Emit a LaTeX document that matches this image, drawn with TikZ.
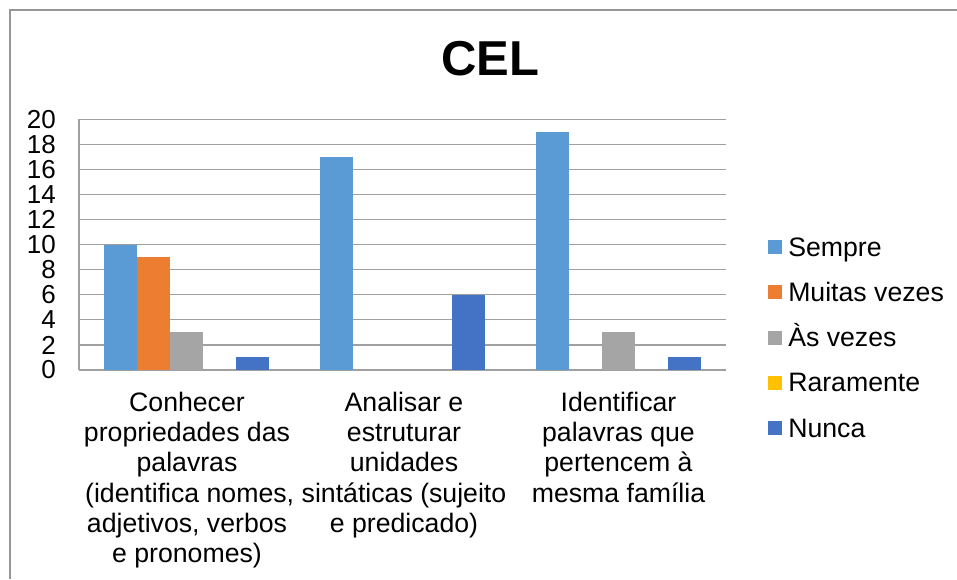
\documentclass[tikz,border=0pt]{standalone}
\usepackage{fontspec}
\setmainfont{Liberation Sans}
\definecolor{sempre}{HTML}{5B9BD5}
\definecolor{muitas}{HTML}{ED7D31}
\definecolor{asvezes}{HTML}{A5A5A5}
\definecolor{raramente}{HTML}{FFC000}
\definecolor{nunca}{HTML}{4472C4}
\definecolor{gridcol}{RGB}{160,160,160}
\definecolor{bordercol}{RGB}{150,150,150}
\begin{document}
\begin{tikzpicture}[x=0.75pt,y=-0.75pt,
  grid/.style={draw=gridcol,line width=0.9pt},
  ylab/.style={anchor=east,inner sep=0pt,font=\fontsize{19.5}{22.65}\selectfont},
  catlab/.style={anchor=north,inner sep=0pt,align=center,font=\fontsize{20}{22.65}\selectfont},
  leglab/.style={anchor=base west,inner sep=0pt,font=\fontsize{20}{22.65}\selectfont},
  titlestyle/.style={inner sep=0pt,font=\fontsize{36.75}{40}\selectfont\bfseries}]
\useasboundingbox (0,0) rectangle (957,579);
\fill[white] (0,0) rectangle (957,579);
% chart border (top and left edges visible)
\draw[bordercol,line width=1.1pt] (957,10) -- (10,10) -- (10,579);
% title
\node[titlestyle] (title) at (490,58.3) {CEL};
% gridlines and axis
\foreach \v in {0,2,...,20} {
  \draw[grid] (79,{370-\v*12.535}) -- (726,{370-\v*12.535});
  \node[ylab] (y\v) at (56,{370-\v*12.535}) {\v};
}
\draw[grid] (79,119.3) -- (79,370);
% bars: category 1
\fill[sempre]  (104.33,370) rectangle (137.33,{370-10*12.535});
\fill[muitas]  (137.33,370) rectangle (170.33,{370-9*12.535});
\fill[asvezes] (170.33,370) rectangle (203.33,{370-3*12.535});
\fill[nunca]   (236.33,370) rectangle (269.33,{370-1*12.535});
% category 2
\fill[sempre]  (320,370) rectangle (353,{370-17*12.535});
\fill[nunca]   (452,370) rectangle (485,{370-6*12.535});
% category 3
\fill[sempre]  (535.67,370) rectangle (568.67,{370-19*12.535});
\fill[asvezes] (601.67,370) rectangle (634.67,{370-3*12.535});
\fill[nunca]   (667.67,370) rectangle (700.67,{370-1*12.535});
% category labels
\node[catlab] (cat1) at (187,392) {Conhecer\\propriedades das\\palavras\\\hspace*{4pt}(identifica nomes,\\adjetivos, verbos\\e pronomes)};
\node[catlab] (cat2) at (404,392) {Analisar e\\estruturar\\unidades\\sintáticas (sujeito\\e predicado)};
\node[catlab] (cat3) at (618.5,392) {Identificar\\palavras que\\pertencem à\\mesma família};
% legend
\foreach \i/\lab/\col in {0/Sempre/sempre,1/Muitas vezes/muitas,2/Às vezes/asvezes,3/Raramente/raramente,4/Nunca/nunca} {
  \fill[\col] (768,{240+\i*45.3}) rectangle (782,{254+\i*45.3});
  \node[leglab] (leg\i) at (788,{256+\i*45.3}) {\lab};
}
\end{tikzpicture}
\end{document}
